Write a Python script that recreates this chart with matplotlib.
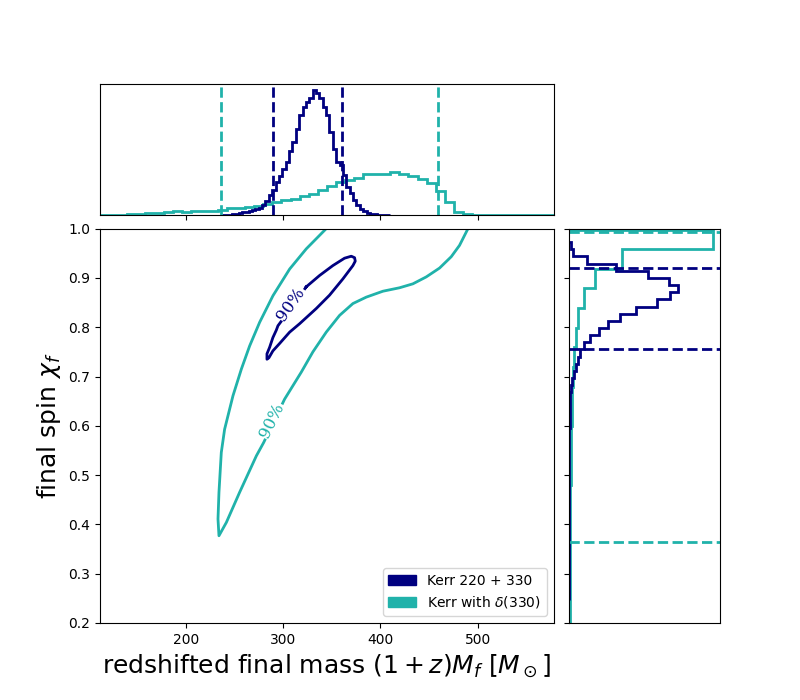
import matplotlib
matplotlib.use('Agg')
import matplotlib.pyplot as plt
import matplotlib.patches as mpatches
import numpy as np

NAVY = 'navy'
TEAL = 'lightseagreen'

# --- marginal histogram of final mass (heights in arbitrary units) ---
mass_edges_kerr = np.linspace(237, 410, 51)
mass_hist_kerr = [0.3, 0.5, 0.8, 1.2, 1.7, 2.2, 3, 3.5, 4.5, 5.5,
                  6.3, 7, 10, 14, 20, 25, 33, 39, 46, 53,
                  64, 73, 86, 100, 108, 113, 117, 125, 122, 117,
                  108, 100, 83, 66, 53, 50, 40, 28, 22, 15,
                  10, 6, 4, 2.5, 1.5, 1, 0.7, 0.5, 0.4, 0.3]
mass_edges_delta = np.linspace(112, 578, 51)
mass_hist_delta = [0.3, 0.3, 0.5, 1, 1, 2, 2, 3, 4, 3.3,
                   4, 4, 4.3, 5.7, 7.3, 7.3, 8.3, 9.3, 11, 13,
                   15, 16.7, 19, 21.7, 25.7, 29, 33.3, 35.7, 37.3, 41,
                   41, 41, 43, 41, 39, 36.3, 32.3, 24, 13.3, 3.3,
                   1, 0.5, 0.4, 0.3, 0.3, 0.3, 0.3, 0.2, 0.2, 0.2]

# --- marginal histogram of final spin (listed from low spin to high) ---
spin_edges_kerr = np.linspace(0.2475, 0.9725, 51)
spin_hist_kerr = [0.1, 0.1, 0.1, 0.1, 0.1, 0.1, 0.1, 0.1, 0.15, 0.15,
                  0.2, 0.2, 0.2, 0.2, 0.25, 0.25, 0.3, 0.3, 0.3, 0.3,
                  0.4, 0.5, 0.6, 0.7, 0.8, 0.9, 1.1, 1.3, 1.6, 2.2,
                  3.2, 4.8, 7.2, 9.2, 11.5, 15.8, 21.5, 30.8, 39.2, 51.5,
                  68.2, 88.8, 102.5, 110.5, 101.5, 79.8, 47.5, 18.2, 3.8, 2.5]
spin_edges_delta = np.linspace(0.003, 0.998, 26)
spin_hist_delta = [0.5, 0.6, 0.7, 0.8, 0.9, 1.0, 1.1, 1.2, 1.3, 1.4,
                   1.5, 1.6, 2.0, 2.2, 2.4, 3.0, 3.2, 4.2, 5.5, 7.2,
                   9.2, 15.8, 26.5, 53.2, 145.2]

# 90% credible intervals
mass_ci_kerr = [289.7, 361.0]
mass_ci_delta = [235.9, 459.0]
spin_ci_kerr = [0.756, 0.920]
spin_ci_delta = [0.3645, 0.993]

# --- 90% contours ---
kerr_mass = [323.9, 337.6, 351.2, 363.2, 370.1, 373.5, 374.2, 371.8, 361.5,
             347.8, 334.2, 317.0, 306.8, 296.5, 289.6, 285.5, 283.5, 283.5,
             286.2, 289.6, 293.1, 294.8, 310.2, 323.9]
kerr_spin = [0.882, 0.905, 0.925, 0.940, 0.944, 0.941, 0.934, 0.925, 0.898,
             0.865, 0.838, 0.807, 0.790, 0.767, 0.752, 0.738, 0.735, 0.746,
             0.759, 0.779, 0.794, 0.803, 0.844, 0.882]
delta_mass = [344.4, 323.9, 306.8, 289.7, 276.0, 265.7, 257.2, 248.6, 240.0,
              236.6, 234.2, 233.2, 234.2, 241.8, 255.4, 272.6, 280.1, 301.6,
              318.8, 330.7, 344.4, 358.1, 371.8, 385.5, 402.6, 419.7, 433.4,
              447.1, 460.8, 472.8, 481.3, 490.0]
delta_spin = [1.0, 0.959, 0.918, 0.864, 0.810, 0.762, 0.715, 0.661, 0.593,
              0.546, 0.465, 0.411, 0.377, 0.404, 0.465, 0.539, 0.566, 0.654,
              0.709, 0.750, 0.790, 0.824, 0.848, 0.861, 0.873, 0.880, 0.888,
              0.902, 0.920, 0.943, 0.966, 1.0]

labels = ['Kerr 220 + 330', r'Kerr with $\delta(330)$']

fig = plt.figure(figsize=(8, 7), dpi=100)
gs = fig.add_gridspec(2, 2, width_ratios=[3, 1], height_ratios=[1, 3],
                      wspace=0.05, hspace=0.05)
ax = fig.add_subplot(gs[1, 0])
axt = fig.add_subplot(gs[0, 0], sharex=ax)
axr = fig.add_subplot(gs[1, 1], sharey=ax)

# main panel
ax.plot(delta_mass, delta_spin, color=TEAL, lw=2)
ax.plot(kerr_mass, kerr_spin, color=NAVY, lw=2)
lbl = dict(fontsize=12, family='DejaVu Serif', ha='center', va='center',
           bbox=dict(facecolor='white', edgecolor='none', pad=0.5))
ax.text(308.5, 0.847, '90%', color=NAVY, rotation=55, **lbl)
ax.text(289.0, 0.61, '90%', color=TEAL, rotation=64, **lbl)
ax.set_xlim(112, 578)
ax.set_ylim(0.2, 1.0)
ax.set_xlabel(r'redshifted final mass $(1+z)M_f$ [$M_\odot$]', fontsize=18)
ax.set_ylabel(r'final spin $\chi_f$', fontsize=18)
handles = [mpatches.Patch(color=NAVY), mpatches.Patch(color=TEAL)]
ax.legend(handles, labels, loc='lower right')

# top marginal
axt.stairs(mass_hist_delta, mass_edges_delta, color=TEAL, lw=2)
axt.stairs(mass_hist_kerr, mass_edges_kerr, color=NAVY, lw=2)
for v in mass_ci_delta:
    axt.axvline(v, color=TEAL, ls='--', lw=2)
for v in mass_ci_kerr:
    axt.axvline(v, color=NAVY, ls='--', lw=2)
axt.tick_params(labelbottom=False)
axt.set_yticks([])

# right marginal
axr.stairs(spin_hist_delta, spin_edges_delta, color=TEAL, lw=2,
           orientation='horizontal')
axr.stairs(spin_hist_kerr, spin_edges_kerr, color=NAVY, lw=2,
           orientation='horizontal')
for v in spin_ci_delta:
    axr.axhline(v, color=TEAL, ls='--', lw=2)
for v in spin_ci_kerr:
    axr.axhline(v, color=NAVY, ls='--', lw=2)
axr.tick_params(labelleft=False)
axr.set_xticks([])
axr.set_xlim(left=0)

fig.savefig('out.png')
